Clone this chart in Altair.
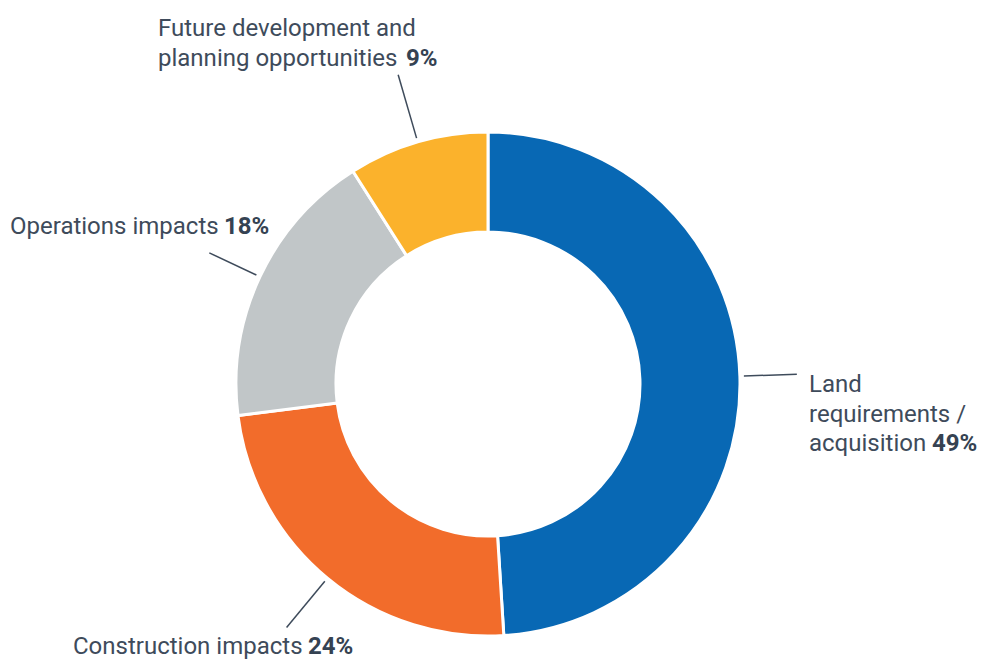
import math
import altair as alt
import pandas as pd

# ---- data ----
categories = [
    "Land requirements / acquisition",
    "Construction impacts",
    "Operations impacts",
    "Future development and planning opportunities",
]
shares = [49, 24, 18, 9]
label_lines = [
    ["Land", "requirements /", "acquisition"],
    ["Construction impacts"],
    ["Operations impacts"],
    ["Future development and", "planning opportunities"],
]
colors = ["#0868b4", "#f26c2b", "#c1c6c8", "#fbb22c"]

# ---- layout (pixels) ----
W, H = 969, 651
CX, CY = 480, 376          # donut centre inside the chart
R_OUT, R_IN = 252, 152
LEAD_IN = 256
LEAD_OUT = [309, 316, 308, 322]
FONT = "Roboto"
FS = 24
TXT = "#3e4b5b"
# label anchors, page pixel coords: (left x, first baseline y, bold x)
label_pos = [
    (809, 392, 932),
    (73, 654, 308),
    (10, 234, 224),
    (158, 36, 406),
]
LINE_H = 29.5


def px(X):
    return X - 8 - CX


def py(Y):
    return CY - (Y - 8)


df = pd.DataFrame({"category": categories, "share": shares, "order": list(range(len(shares)))})

total = sum(shares)
cum = 0
rows = []
for i, s in enumerate(shares):
    a = (cum + s / 2) / total * 2 * math.pi
    cum += s
    rows.append({
        "x": LEAD_IN * math.sin(a), "y": LEAD_IN * math.cos(a),
        "x2": LEAD_OUT[i] * math.sin(a), "y2": LEAD_OUT[i] * math.cos(a),
    })
lead = pd.DataFrame(rows)

trows = []
for i, lines in enumerate(label_lines):
    lx, ly, bx = label_pos[i]
    for j, t in enumerate(lines):
        trows.append({"x": px(lx), "y": py(ly + j * LINE_H), "t": t, "w": "normal"})
    trows.append({"x": px(bx), "y": py(ly + (len(lines) - 1) * LINE_H), "t": f"{shares[i]}%", "w": "bold"})
txt = pd.DataFrame(trows)

xs = alt.Scale(domain=[-CX, W - CX], nice=False, zero=False)
ys = alt.Scale(domain=[-(H - CY), CY], nice=False, zero=False)

arc = alt.Chart(df).mark_arc(innerRadius=R_IN, outerRadius=R_OUT, stroke="white", strokeWidth=3).encode(
    theta=alt.Theta("share:Q", stack=True),
    color=alt.Color("category:N", scale=alt.Scale(domain=categories, range=colors), legend=None),
    order=alt.Order("order:Q"),
    x=alt.XDatum(0, type="quantitative", scale=xs, axis=None),
    y=alt.YDatum(0, type="quantitative", scale=ys, axis=None),
)

rules = alt.Chart(lead).mark_rule(color="#3e4b5b", strokeWidth=1.5).encode(
    x=alt.X("x:Q", scale=xs, axis=None),
    y=alt.Y("y:Q", scale=ys, axis=None),
    x2="x2:Q",
    y2="y2:Q",
)

normal = alt.Chart(txt).transform_filter(alt.datum.w == "normal").mark_text(
    align="left", baseline="alphabetic", font=FONT, fontSize=FS, color=TXT
).encode(
    x=alt.X("x:Q", scale=xs, axis=None),
    y=alt.Y("y:Q", scale=ys, axis=None),
    text="t:N",
)

bold = alt.Chart(txt).transform_filter(alt.datum.w == "bold").mark_text(
    align="left", baseline="alphabetic", font=FONT, fontSize=FS, fontWeight="bold", color="#354252"
).encode(
    x=alt.X("x:Q", scale=xs, axis=None),
    y=alt.Y("y:Q", scale=ys, axis=None),
    text="t:N",
)

chart = alt.layer(arc, rules, normal, bold).properties(
    width=W, height=H, padding=0, autosize=alt.AutoSizeParams(type="none"), background="white"
).configure_view(stroke=None)

chart.save("out.html", embed_options={"renderer": "svg", "actions": False})
